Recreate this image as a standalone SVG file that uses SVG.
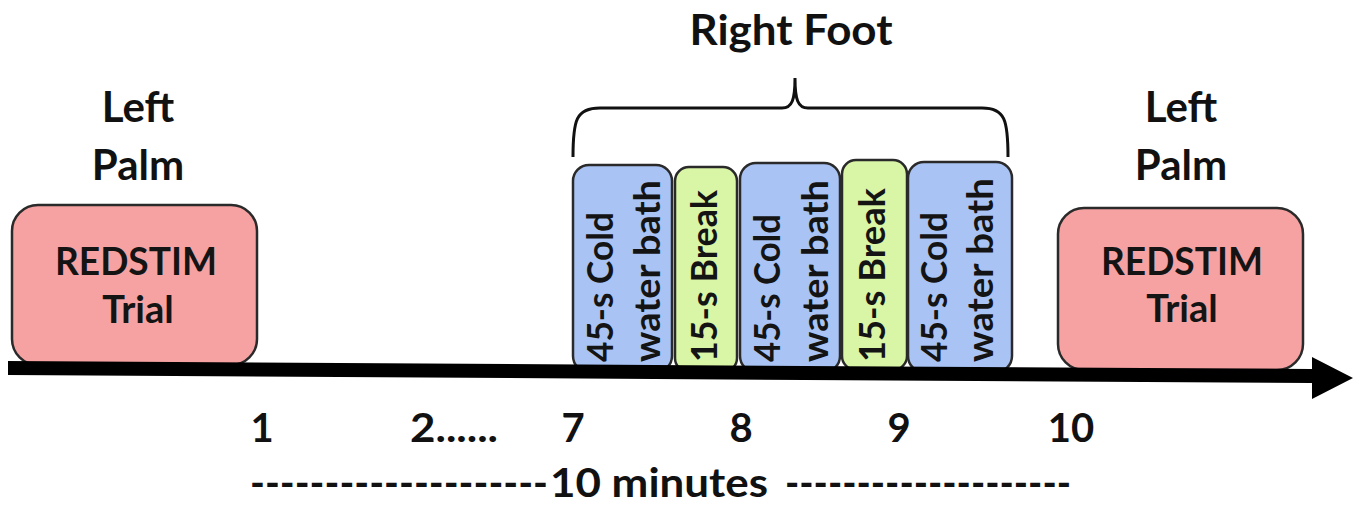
<svg xmlns="http://www.w3.org/2000/svg" width="1360" height="510" viewBox="0 0 1360 510">
<style>
text { font-family: Lato, "Open Sans", "Liberation Sans", sans-serif; font-weight: 700; fill: #111; }
.lbl { font-size: 42px; text-anchor: middle; }
.box { font-size: 38px; text-anchor: middle; fill: #141414; }
.num { font-size: 40px; text-anchor: middle; }
.rot { font-size: 36px; text-anchor: start; fill: #141414; }
.pink { fill: #F6A2A2; stroke: #2a2a2a; stroke-width: 2.5; }
.blue { fill: #A9C4F4; stroke: #2a2a2a; stroke-width: 2.5; }
.green { fill: #D9F5A6; stroke: #2a2a2a; stroke-width: 2.5; }
</style>
<rect width="1360" height="510" fill="#ffffff"/>

<g id="label-right-foot">
<text class="lbl" x="791" y="45" textLength="203" lengthAdjust="spacingAndGlyphs">Right Foot</text>
</g>
<g id="brace">
<path d="M573,157 C573,120 576,108 600,108 L782,108 C792,108 795,100 795,78 C795,100 798,108 808,108 L982,108 C1005,108 1008,120 1008,157" fill="none" stroke="#111" stroke-width="3"/>
</g>

<g id="left-trial">
<text class="lbl" x="138" y="122">Left</text>
<text class="lbl" x="138" y="180">Palm</text>
<rect class="pink" x="12" y="205" width="245" height="160" rx="26"/>
<text class="box" x="136" y="275" textLength="162" lengthAdjust="spacingAndGlyphs">REDSTIM</text>
<text class="box" x="138" y="323">Trial</text>
</g>

<g id="cold1">
<rect class="blue" x="573" y="165" width="99" height="207" rx="16"/>
<text class="rot" transform="translate(613,362) rotate(-90)" textLength="150" lengthAdjust="spacingAndGlyphs">45-s Cold</text>
<text class="rot" transform="translate(660,362) rotate(-90)" textLength="182" lengthAdjust="spacingAndGlyphs">water bath</text>
</g>
<g id="break1">
<rect class="green" x="675" y="167" width="62" height="205" rx="14"/>
<text class="rot" transform="translate(717,362) rotate(-90)" textLength="172" lengthAdjust="spacingAndGlyphs">15-s Break</text>
</g>
<g id="cold2">
<rect class="blue" x="740" y="163" width="100" height="209" rx="16"/>
<text class="rot" transform="translate(780,362) rotate(-90)" textLength="148" lengthAdjust="spacingAndGlyphs">45-s Cold</text>
<text class="rot" transform="translate(828,362) rotate(-90)" textLength="182" lengthAdjust="spacingAndGlyphs">water bath</text>
</g>
<g id="break2">
<rect class="green" x="842" y="160" width="65" height="210" rx="14"/>
<text class="rot" transform="translate(885,362) rotate(-90)" textLength="174" lengthAdjust="spacingAndGlyphs">15-s Break</text>
</g>
<g id="cold3">
<rect class="blue" x="908" y="162" width="104" height="210" rx="16"/>
<text class="rot" transform="translate(947,362) rotate(-90)" textLength="150" lengthAdjust="spacingAndGlyphs">45-s Cold</text>
<text class="rot" transform="translate(993,362) rotate(-90)" textLength="184" lengthAdjust="spacingAndGlyphs">water bath</text>
</g>

<g id="right-trial">
<text class="lbl" x="1181" y="122">Left</text>
<text class="lbl" x="1181" y="180">Palm</text>
<rect class="pink" x="1058" y="208" width="245" height="162" rx="26"/>
<text class="box" x="1182" y="275" textLength="162" lengthAdjust="spacingAndGlyphs">REDSTIM</text>
<text class="box" x="1182" y="322">Trial</text>
</g>

<g id="connectors">
<polygon points="8,361 1312,369 1312,357 1353,378 1312,399 1312,383 8,375" fill="#000"/>
</g>

<g id="axis-labels">
<text class="num" x="262" y="442">1</text>
<text class="num" x="454" y="442" textLength="88" lengthAdjust="spacingAndGlyphs">2......</text>
<text class="num" x="573" y="442">7</text>
<text class="num" x="741" y="442">8</text>
<text class="num" x="899" y="442">9</text>
<text class="num" x="1071" y="442">10</text>
</g>
<g id="duration">
<text class="num" y="497" style="text-anchor:start"><tspan x="250" textLength="298" lengthAdjust="spacingAndGlyphs">--------------------</tspan><tspan x="550" textLength="218" lengthAdjust="spacingAndGlyphs">10 minutes</tspan><tspan> </tspan><tspan x="785" textLength="286" lengthAdjust="spacingAndGlyphs">--------------------</tspan></text>
</g>
</svg>
